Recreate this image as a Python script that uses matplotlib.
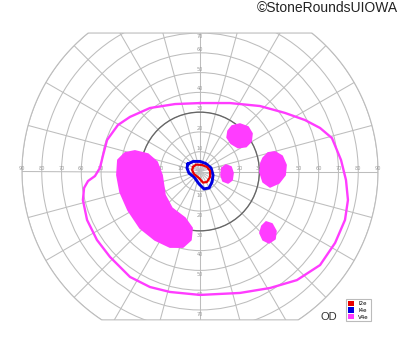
import numpy as np
import matplotlib.pyplot as plt
from matplotlib.patches import Polygon, Circle, Patch

# ----------------------------------------------------------------------
# isopter data (visual field degrees, x = temporal/nasal, y = sup/inf)
# ----------------------------------------------------------------------
v4e_outer_x = [0, 15.2, 30.3, 43.0, 53.1, 60.7, 66.7, 71.3, 73.8, 74.8, 73.3, 68.3,
               60.7, 49.0, 35.4, 20.2, 0, -15.2, -25.3, -35.4, -45.5, -52.1, -57.1,
               -59.2, -58.6, -56.6, -53.1, -50.6, -49.0, -47.0, -41.5, -35.4, -25.3, -12.6]
v4e_outer_y = [34.6, 34.6, 33.1, 29.6, 26.0, 22.0, 16.9, 5.8, -4.3, -14.4, -24.5, -36.1,
               -47.3, -54.9, -58.9, -61.4, -62.4, -60.9, -58.4, -53.3, -43.2, -34.6, -24.5,
               -14.4, -8.3, -4.8, -2.3, 1.8, 8.3, 15.9, 23.5, 27.6, 32.1, 34.1]

# V4e scotomas
scot_left_x = [-41.5, -37.9, -32.9, -26.3, -21.7, -19.2, -17.7, -14.2, -7.6, -4.0,
               -4.6, -8.6, -15.2, -22.8, -30.3, -36.4, -40.4, -42.0]
scot_left_y = [5.8, 9.4, 10.4, 8.8, 4.8, -1.8, -11.9, -18.5, -23.5, -28.6,
               -34.6, -38.2, -38.2, -34.6, -28.6, -19.5, -10.4, -1.8]
scot_sup_x = [14.2, 16.2, 20.2, 24.3, 26.3, 25.8, 23.3, 19.2, 15.7, 13.7]
scot_sup_y = [20.5, 23.0, 24.0, 22.5, 19.2, 15.2, 12.6, 12.1, 14.2, 17.2]
scot_right_x = [31.9, 34.4, 37.9, 41.5, 43.5, 43.0, 39.9, 35.4, 31.9, 30.3, 30.8]
scot_right_y = [6.8, 9.4, 9.9, 7.8, 3.3, -1.8, -5.8, -7.8, -5.3, -0.3, 4.3]
scot_para_x = [11.1, 13.1, 15.7, 16.7, 16.2, 14.2, 11.6, 10.6]
scot_para_y = [1.8, 3.3, 2.3, -0.8, -4.3, -5.8, -4.8, -1.8]
scot_inf_x = [31.3, 33.4, 36.4, 38.4, 37.9, 34.9, 31.9, 30.3]
scot_inf_y = [-27.6, -25.5, -26.5, -30.1, -34.1, -36.1, -34.6, -31.1]

i4e_x = [-6.1, -3.5, 0, 3.0, 5.6, 6.6, 6.1, 4.6, 2.0, -0.5, -3.0, -5.6, -6.6]
i4e_y = [3.8, 5.1, 5.1, 4.0, 1.8, -1.8, -5.3, -8.3, -8.8, -6.3, -2.8, -0.8, 1.8]

i2e_x = [-3.5, -2.0, 1.0, 3.5, 5.1, 5.1, 3.5, 1.5, -0.5, -3.0, -4.0]
i2e_y = [2.3, 3.5, 3.3, 2.3, 0.3, -2.8, -5.3, -5.6, -3.3, -1.3, 0.8]

ring_degs = list(range(10, 100, 10))
meridian_degs = list(range(0, 360, 15))
label_h = [10, 20, 30, 40, 50, 60, 70, 80, 90]
label_v = [10, 20, 30, 40, 50, 60, 70]

MAG = '#ff3cff'
BLUE = '#0000e0'
RED = '#e80000'
GRID = '#bdbdbd'

# ----------------------------------------------------------------------
fig = plt.figure(figsize=(4, 3.52), dpi=100)
ax = fig.add_axes([0, 0, 1, 1])
scale = 1.978          # pixels per degree
cx, cy = 200, 171.5
ax.set_xlim(-cx / scale, (400 - cx) / scale)
ax.set_ylim(-(352 - cy) / scale, cy / scale)
ax.axis('off')

# chart outline: 90 deg circle cut flat at +70 / -75
t = np.linspace(0, 2 * np.pi, 1441)
bx = 90 * np.cos(t)
by = np.clip(90 * np.sin(t), -75, 70)
border = Polygon(np.column_stack([bx, by]), closed=True, fill=False,
                 ec=GRID, lw=0.8, zorder=1)
ax.add_patch(border)

for r in ring_degs:
    c = Circle((0, 0), r, fill=False, ec=GRID, lw=0.75, zorder=1)
    ax.add_patch(c)
    c.set_clip_path(border)
dark = Circle((0, 0), 30, fill=False, ec='#666666', lw=0.95, zorder=1.2)
ax.add_patch(dark)

for a in meridian_degs:
    ang = np.deg2rad(a)
    ln, = ax.plot([0, 90 * np.cos(ang)], [0, 90 * np.sin(ang)], color=GRID, lw=0.75, zorder=1)
    ln.set_clip_path(border)

lab_kw = dict(fontsize=3.6, color='#9a9a9a', ha='center', zorder=1.5)
for v in label_h:
    ax.text(v, 0.4, str(v), va='bottom', **lab_kw)
    ax.text(-v, 0.4, str(v), va='bottom', **lab_kw)
for v in label_v:
    ytop = min(v + 1.8, 68.2)
    ax.text(0, ytop, str(v), va='center', **lab_kw)
    ax.text(0, -v - 2.2, str(v), va='center', **lab_kw)

# V4e
for sx, sy in [(scot_left_x, scot_left_y), (scot_sup_x, scot_sup_y),
               (scot_right_x, scot_right_y), (scot_para_x, scot_para_y),
               (scot_inf_x, scot_inf_y)]:
    ax.fill(sx, sy, color=MAG, lw=1.2, ec=MAG, joinstyle='round', zorder=3)
ax.plot(v4e_outer_x + v4e_outer_x[:1], v4e_outer_y + v4e_outer_y[:1],
        color=MAG, lw=1.7, solid_joinstyle='round', zorder=3)

# I4e / I2e
ax.plot(i4e_x + i4e_x[:1], i4e_y + i4e_y[:1], color=BLUE, lw=2.1,
        solid_joinstyle='round', zorder=4)
ax.plot(i2e_x + i2e_x[:1], i2e_y + i2e_y[:1], color=RED, lw=1.6,
        solid_joinstyle='round', zorder=5)

# texts
fig.text(398 / 400, 1 - 8 / 352, '\u00a9StoneRoundsUIOWA', ha='right', va='center',
         fontsize=10, family='Liberation Sans', color='#222222')
fig.text(329 / 400, 1 - 317 / 352, 'OD', ha='center', va='center',
         fontsize=8, family='Liberation Sans', color='#333333')

handles = [Patch(fc=RED, ec='none', label='I2e'),
           Patch(fc=BLUE, ec='none', label='I4e'),
           Patch(fc=MAG, ec='none', label='V4e')]
leg = fig.legend(handles=handles, loc='upper left', bbox_to_anchor=(346 / 400, 1 - 299 / 352),
                 fontsize=4, frameon=True, fancybox=False, edgecolor='#aaaaaa',
                 handlelength=1.1, handleheight=1.1, handletextpad=0.8,
                 labelspacing=0.2, borderpad=0.3, borderaxespad=0)
leg.get_frame().set_linewidth(0.8)

fig.savefig('out.png', dpi=100)
